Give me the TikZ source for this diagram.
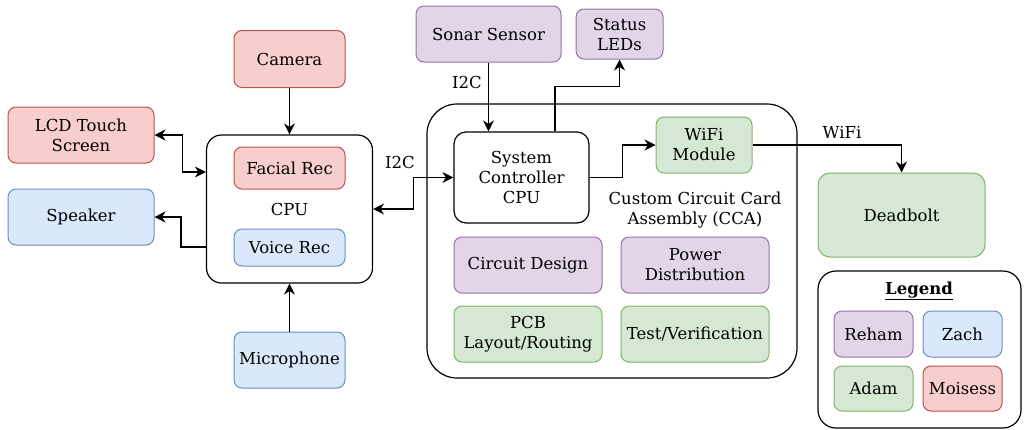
\documentclass[tikz,border=0pt]{standalone}
\usepackage{fontspec}
\setmainfont{DejaVu Serif}
\usepackage{xcolor}
\definecolor{colorRed}{HTML}{F8CECC}
\definecolor{colorRedLine}{HTML}{B85450}
\definecolor{colorBlue}{HTML}{DAE8FC}
\definecolor{colorBlueLine}{HTML}{6C8EBF}
\definecolor{colorGreen}{HTML}{D5E8D4}
\definecolor{colorGreenLine}{HTML}{82B366}
\definecolor{colorPurple}{HTML}{E1D5E7}
\definecolor{colorPurpleLine}{HTML}{9673A6}
\usetikzlibrary{arrows.meta, positioning}
\tikzset{
  block/.style={rectangle, draw, line width=1pt, rounded corners=8pt, align=center, inner sep=1pt},
  redblock/.style={block, fill=colorRed, draw=colorRedLine},
  blueblock/.style={block, fill=colorBlue, draw=colorBlueLine},
  greenblock/.style={block, fill=colorGreen, draw=colorGreenLine},
  purpleblock/.style={block, fill=colorPurple, draw=colorPurpleLine},
  group/.style={rectangle, draw=black, fill=white, line width=1.2pt, align=center},
  link/.style={->, line width=1.2pt},
}

\begin{document}
\begin{tikzpicture}[x=1pt, y=-1pt, >={Stealth[length=11pt, width=11pt, inset=3.5pt]}, font=\fontsize{16.5}{20}\selectfont]
\useasboundingbox (0,0) rectangle (1024,429);
% main CPU and its peripherals
\node[group, rounded corners=15pt, minimum width=166pt, minimum height=148pt] (cpu) at (289.5,209) {CPU};
\node[redblock, minimum width=111pt, minimum height=42pt] (facial) at (289.5,168) {Facial Rec};
\node[blueblock, minimum width=111pt, minimum height=37pt] (voice) at (289.5,247.5) {Voice Rec};
\node[redblock, minimum width=111pt, minimum height=57pt] (camera) at (289.5,59) {Camera};
\node[redblock, minimum width=146pt, minimum height=56pt] (lcd) at (81,135) {LCD Touch\\Screen};
\node[blueblock, minimum width=146pt, minimum height=56pt] (speaker) at (81,217) {Speaker};
\node[blueblock, minimum width=111pt, minimum height=56pt] (mic) at (289.5,360) {Microphone};
% custom circuit card
\node[group, rounded corners=30pt, minimum width=370pt, minimum height=274pt] (cca) at (612,241) {};
\node[align=center] (ccalabel) at (695,210) {Custom Circuit Card\\Assembly (CCA)};
\node[group, rounded corners=12pt, minimum width=135pt, minimum height=91pt] (sysctl) at (521.5,177.5) {System\\Controller\\CPU};
\node[greenblock, minimum width=96pt, minimum height=56pt] (wifi) at (704,145) {WiFi\\Module};
\node[purpleblock, minimum width=148pt, minimum height=56pt] (circuit) at (528,265) {Circuit Design};
\node[purpleblock, minimum width=148pt, minimum height=56pt] (power) at (695,265) {Power\\Distribution};
\node[greenblock, minimum width=148pt, minimum height=56pt] (pcb) at (528,334) {PCB\\Layout/Routing};
\node[greenblock, minimum width=148pt, minimum height=56pt] (test) at (695,334) {Test/Verification};
\node[purpleblock, minimum width=145pt, minimum height=56pt] (sonar) at (488.5,34) {Sonar Sensor};
\node[purpleblock, minimum width=87pt, minimum height=50pt] (leds) at (619.5,34) {Status\\LEDs};
\node[greenblock, rounded corners=12pt, minimum width=167pt, minimum height=84pt] (deadbolt) at (901.5,215) {Deadbolt};
% legend
\node[group, rounded corners=18pt, minimum width=203pt, minimum height=157pt] (legend) at (919.5,349.5) {};
\node (legendtitle) at (919,291) {\textbf{\underline{Legend}}};
\node[purpleblock, minimum width=79pt, minimum height=46pt] (reham) at (873.5,334) {Reham};
\node[blueblock, minimum width=79pt, minimum height=46pt] (zach) at (962.5,334) {Zach};
\node[greenblock, minimum width=79pt, minimum height=45pt] (adam) at (873.5,388.5) {Adam};
\node[redblock, minimum width=79pt, minimum height=45pt] (moisess) at (962.5,388.5) {Moisess};
% connections
\draw[link] (camera) -- (cpu);
\draw[link] (mic) -- (cpu);
\draw[link, <->] (lcd.east) -- ++(28,0) |- ([yshift=37pt]cpu.west);
\draw[link] ([yshift=-38pt]cpu.west) -- ++(-25,0) |- (speaker.east);
\draw[link, <->] (cpu.east) -- ++(40,0) |- (sysctl.west);
\node (i2cleft) at (400,162) {I2C};
\draw[link] (sonar.south) -- (sonar.south |- sysctl.north);
\node (i2ctop) at (467,82) {I2C};
\draw[link] ([xshift=33.5pt]sysctl.north) -- ++(0,-45) -| (leds.south);
\draw[link] (sysctl.east) -- ++(33,0) |- (wifi.west);
\draw[link] (wifi.east) -| (deadbolt.north);
\node (wifilabel) at (842,132) {WiFi};
\end{tikzpicture}
\end{document}
